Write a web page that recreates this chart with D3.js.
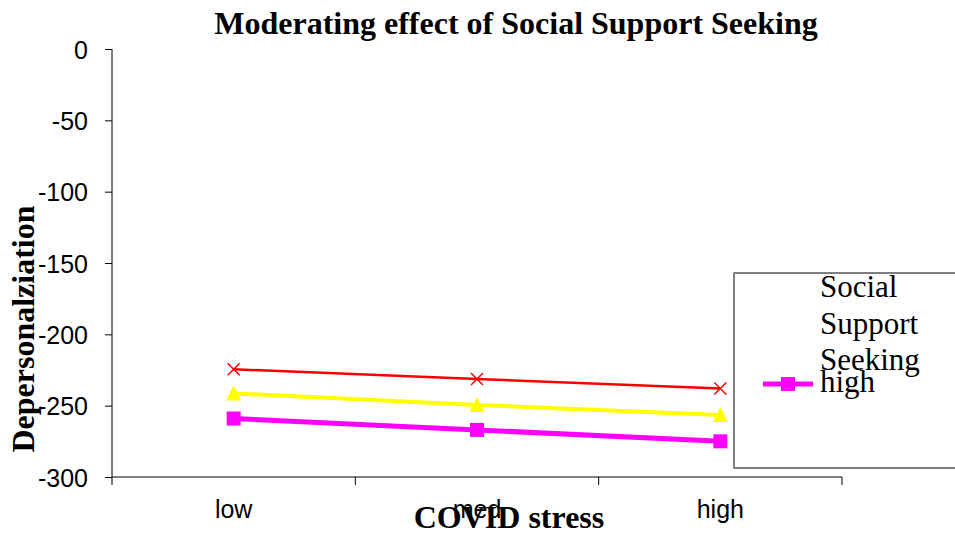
<!DOCTYPE html>
<meta charset="utf-8">
<script src="https://d3js.org/d3.v7.min.js"></script>
<style>
body { margin: 0; background: #fff; }
.tick text { font-family: "Liberation Sans", Arial, sans-serif; font-size: 25px; fill: #000; }
.axis path, .axis line { stroke: #000; }
.titulo { font-family: "Liberation Serif", "Times New Roman", serif; font-weight: bold; fill: #000; }
.leg { font-family: "Liberation Serif", "Times New Roman", serif; font-size: 31px; fill: #000; }
</style>
<body>
<div id="canvas"></div>
<script>
// categorias do eixo X
var categories = ["low", "med", "high"];
// valores
var lowValues = [-224.5, -231.3, -238];
var medValues = [-241.4, -249.5, -256.5];
var highValues = [-259, -267, -275];
var yTicks = [0, -50, -100, -150, -200, -250, -300];

var series = [
  {name: "low", values: lowValues, color: "#ff0000", width: 2.5, symbol: "x"},
  {name: "med", values: medValues, color: "#ffff00", width: 4, symbol: "tri"},
  {name: "high", values: highValues, color: "#ff00ff", width: 5, symbol: "sq"}
];

var width = 955, height = 539;
var margin = {top: 49, left: 112, right: 113, bottom: 62};

var svg = d3.select("#canvas").append("svg")
  .attr("width", width).attr("height", height);

var x = d3.scaleBand().domain(categories).range([margin.left, width - margin.right]);
var y = d3.scaleLinear().domain([-300, 0]).range([height - margin.bottom, margin.top]);

// eixo Y (hifen simples no lugar do sinal de menos)
svg.append("g").attr("class", "axis")
  .attr("transform", "translate(" + margin.left + ",0)")
  .call(d3.axisLeft(y).tickValues(yTicks).tickSize(7).tickPadding(17)
    .tickFormat(function(d) { return String(d); }))
  .call(function(g) {
    g.select(".domain").attr("d", "M0," + y(0) + "V" + y(-300));
    g.selectAll(".tick text").attr("dy", "0.36em");
  });

// eixo X com ticks nas bordas das categorias
var xg = svg.append("g").attr("class", "axis")
  .attr("transform", "translate(0," + y(-300) + ")");
xg.append("line").attr("x1", margin.left).attr("x2", width - margin.right).attr("stroke", "#000");
var edges = categories.map(function(c) { return x(c); }).concat([x(categories[2]) + x.bandwidth()]);
xg.selectAll(".tk").data(edges).enter().append("line")
  .attr("x1", function(d) { return d; }).attr("x2", function(d) { return d; })
  .attr("y1", 0).attr("y2", 8).attr("stroke", "#000");
xg.selectAll(".lbl").data(categories).enter().append("g").attr("class", "tick")
  .append("text")
  .attr("x", function(d) { return x(d) + x.bandwidth() / 2; })
  .attr("y", 41).attr("text-anchor", "middle")
  .text(function(d) { return d; });

// linhas
var line = d3.line()
  .x(function(d, i) { return x(categories[i]) + x.bandwidth() / 2; })
  .y(function(d) { return y(d); });

function drawSymbol(g, s, cx, cy) {
  if (s.symbol === "x") {
    g.append("path").attr("d", "M" + (cx - 6) + "," + (cy - 6) + "L" + (cx + 6) + "," + (cy + 6) +
      "M" + (cx - 6) + "," + (cy + 6) + "L" + (cx + 6) + "," + (cy - 6))
      .attr("stroke", s.color).attr("stroke-width", 1.5);
  } else if (s.symbol === "tri") {
    g.append("path").attr("d", "M" + cx + "," + (cy - 8) + "L" + (cx + 7.5) + "," + (cy + 7) + "L" + (cx - 7.5) + "," + (cy + 7) + "Z")
      .attr("fill", s.color);
  } else {
    g.append("rect").attr("x", cx - 7).attr("y", cy - 7).attr("width", 14).attr("height", 14)
      .attr("fill", s.color);
  }
}

series.forEach(function(s) {
  var g = svg.append("g");
  g.append("path").attr("d", line(s.values))
    .attr("fill", "none").attr("stroke", s.color).attr("stroke-width", s.width);
  s.values.forEach(function(v, i) {
    drawSymbol(g, s, x(categories[i]) + x.bandwidth() / 2, y(v));
  });
});

// legenda
var leg = svg.append("g");
leg.append("rect").attr("x", 734).attr("y", 273).attr("width", 240).attr("height", 195)
  .attr("fill", "#fff").attr("stroke", "#000");
leg.append("line").attr("x1", 734).attr("x2", 734).attr("y1", 273).attr("y2", 468)
  .attr("stroke", "#808080").attr("stroke-width", 1.5);
["Social", "Support", "Seeking"].forEach(function(t, i) {
  leg.append("text").attr("class", "leg").attr("x", 820).attr("y", 297 + i * 36.5).text(t);
});
var hs = series[2];
leg.append("line").attr("x1", 763).attr("x2", 813).attr("y1", 384).attr("y2", 384)
  .attr("stroke", hs.color).attr("stroke-width", hs.width);
drawSymbol(leg, hs, 788, 384);
leg.append("text").attr("class", "leg").attr("x", 820).attr("y", 392).text(hs.name);

// titulos
svg.append("text").attr("class", "titulo").attr("x", 516).attr("y", 34)
  .attr("text-anchor", "middle").style("font-size", "32px")
  .text("Moderating effect of Social Support Seeking");
svg.append("text").attr("class", "titulo").attr("x", 509).attr("y", 528)
  .attr("text-anchor", "middle").style("font-size", "32px").text("COVID stress");
svg.append("text").attr("class", "titulo")
  .attr("transform", "translate(34,329) rotate(-90)")
  .attr("text-anchor", "middle").style("font-size", "32px").text("Depersonalziation");
</script>
</body>
